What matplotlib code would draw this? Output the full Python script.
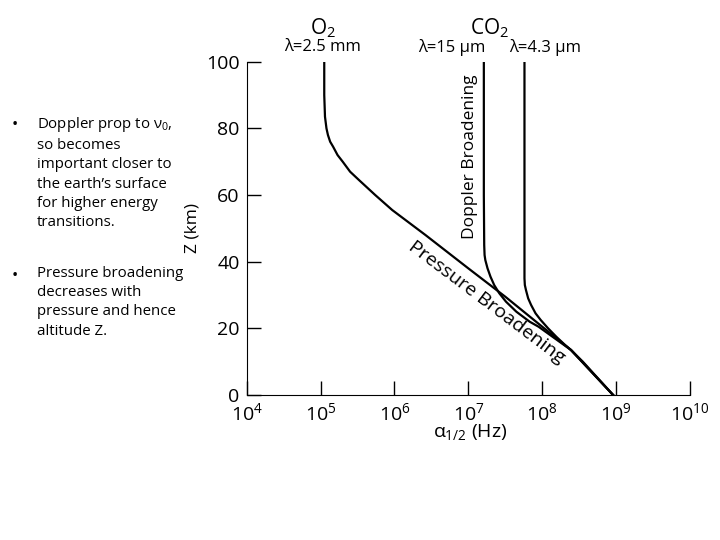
import matplotlib
matplotlib.use("Agg")
import matplotlib.pyplot as plt
import numpy as np

plt.rcParams['font.family'] = ['Open Sans', 'DejaVu Sans']
plt.rcParams['mathtext.fontset'] = 'custom'
plt.rcParams['mathtext.rm'] = 'Open Sans'
plt.rcParams['mathtext.it'] = 'Open Sans'

# curves: (Z km, log10 alpha Hz)
o2_z = [100, 90, 83.5, 80, 78, 76, 74.5, 72, 70, 67, 64.5, 60, 55.5, 48, 38, 29.5, 20.5, 13.5, 0]
o2_log = [5.05, 5.05, 5.06, 5.08, 5.10, 5.13, 5.17, 5.23, 5.30, 5.40, 5.52, 5.74, 5.97, 6.42, 7.0, 7.50, 8.0, 8.39, 8.96]
co2a_z = [100, 60, 45, 42, 40.5, 38, 35.5, 33, 30.5, 28, 25, 22, 20.5, 13.5, 0]
co2a_log = [7.21, 7.21, 7.215, 7.22, 7.23, 7.26, 7.30, 7.35, 7.42, 7.51, 7.65, 7.83, 7.95, 8.39, 8.96]
co2b_z = [100, 60, 35, 33, 31.5, 29, 27, 24.5, 22.5, 20, 17.5, 15, 13.5, 10, 0]
co2b_log = [7.76, 7.76, 7.76, 7.765, 7.78, 7.81, 7.85, 7.91, 7.98, 8.08, 8.19, 8.31, 8.39, 8.55, 8.96]
xticks = [1e4, 1e5, 1e6, 1e7, 1e8, 1e9, 1e10]
xtick_labels = [r'$10^{4}$', r'$10^{5}$', r'$10^{6}$', r'$10^{7}$', r'$10^{8}$', r'$10^{9}$', r'$10^{10}$']
yticks = [0, 20, 40, 60, 80, 100]

fig = plt.figure(figsize=(7.2, 5.4), dpi=100)
ax = fig.add_axes([0.3426, 0.2685, 0.9583 - 0.3426, 0.8857 - 0.2685])
for lg, z in [(o2_log, o2_z), (co2a_log, co2a_z), (co2b_log, co2b_z)]:
    ax.plot(10 ** np.array(lg), z, color='black', lw=1.6)
ax.set_xscale('log')
ax.set_xlim(1e4, 1e10)
ax.set_ylim(0, 100)
ax.set_xticks(xticks)
ax.set_xticklabels(xtick_labels, fontsize=14)
ax.minorticks_off()
ax.set_yticks(yticks)
ax.set_yticklabels([str(v) for v in yticks], fontsize=14)
ax.tick_params(direction='in', length=10, width=1, pad=5)
for s in ['top', 'right']:
    ax.spines[s].set_visible(False)
for lbl in ax.get_xticklabels():
    lbl.set_clip_on(False)

ax.set_ylabel('Z (km)', fontsize=12.5, labelpad=4)
fig.text(470/720, 1 - 432/540, r'$\alpha_{1/2}$ (Hz)', fontsize=14, ha='center', va='center')

fig.text(323/720, 1 - 28/540, r'O$_2$', fontsize=15, ha='center', va='center')
fig.text(323/720, 1 - 47/540, 'λ=2.5 mm', fontsize=12, ha='center', va='center')
fig.text(490/720, 1 - 28/540, r'CO$_2$', fontsize=15, ha='center', va='center')
fig.text(452/720, 1 - 47/540, 'λ=15 μm', fontsize=12, ha='center', va='center')
fig.text(545/720, 1 - 47/540, 'λ=4.3 μm', fontsize=12, ha='center', va='center')

fig.text(470/720, 1 - 157/540, 'Doppler Broadening', fontsize=12.5, rotation=90, ha='center', va='center')
fig.text(487/720, 1 - 302/540, 'Pressure Broadening', fontsize=14, rotation=-37,
         ha='center', va='center', rotation_mode='anchor')

fig.text(12/720, 1 - 125/540, '•', fontsize=12, ha='left', va='center')
fig.text(37/720, 1 - 115/540,
         'Doppler prop to ν$_0$,\nso becomes\nimportant closer to\nthe earth’s surface\nfor higher energy\ntransitions.',
         fontsize=10.8, ha='left', va='top', linespacing=1.38)
fig.text(12/720, 1 - 276/540, '•', fontsize=12, ha='left', va='center')
fig.text(37/720, 1 - 266/540,
         'Pressure broadening\ndecreases with\npressure and hence\naltitude Z.',
         fontsize=10.8, ha='left', va='top', linespacing=1.38)

fig.savefig('out.png', dpi=100)
